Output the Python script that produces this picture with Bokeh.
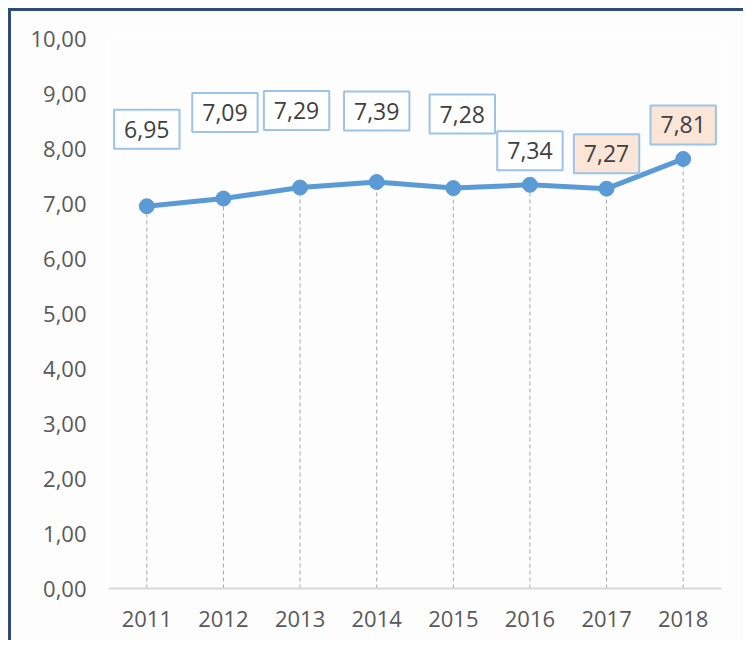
from bokeh.plotting import figure
from bokeh.models import ColumnDataSource, FixedTicker, Range1d
from bokeh.core.properties import value
from bokeh.embed import file_html
from bokeh.resources import INLINE

# ---- data ----
years = ["2011", "2012", "2013", "2014", "2015", "2016", "2017", "2018"]
values = [6.95, 7.09, 7.29, 7.39, 7.28, 7.34, 7.27, 7.81]
y_ticks = [0, 1, 2, 3, 4, 5, 6, 7, 8, 9, 10]
y_tick_labels = ["0,00", "1,00", "2,00", "3,00", "4,00", "5,00",
                 "6,00", "7,00", "8,00", "9,00", "10,00"]

# ---- label styling (pixel offsets / fills) ----
label_dx = [0, 1.5, -3.5, 0, 9, 0, 0, 0]
label_dy = [-77, -86, -77, -71, -74, -34, -35, -34]
label_fill = ["#ffffff"] * 6 + ["#fbe5d6", "#fbe5d6"]

labels = [f"{v:.2f}".replace(".", ",") for v in values]
zeros = [0] * len(values)

src = ColumnDataSource(dict(x=years, y=values, y0=zeros, lab=labels,
                            dx=label_dx, dy=label_dy, fill=label_fill))

FONT = "Open Sans"
p = figure(x_range=years, y_range=Range1d(0, 10), width=735, height=632,
           output_backend="svg", toolbar_location=None,
           min_border_left=97, min_border_right=25, min_border_top=27,
           min_border_bottom=55, background_fill_color="#fdfdfe",
           border_fill_color="#fdfdfe")
p.styles = {"border-left": "3px solid #2f4a7c", "border-top": "3px solid #2f4a7c",
            "margin-left": "8px", "margin-top": "8px"}
p.outline_line_color = None
p.grid.visible = False

# drop lines
p.segment(x0="x", y0="y0", x1="x", y1="y", source=src, line_color="#a6a6a6",
          line_width=1, line_dash="4 3")
# line + markers
p.line(x="x", y="y", source=src, line_color="#5b9bd5", line_width=5)
p.scatter(x="x", y="y", source=src, size=15, fill_color="#5b9bd5",
          line_color="#5b9bd5")
# labels
p.text(x="x", y="y", text="lab", source=src, x_offset="dx", y_offset="dy",
       text_align="center", text_baseline="middle", text_font=value(FONT),
       text_font_size="23px", text_color="#404040",
       background_fill_color="fill", border_line_color="#9dc3e6",
       border_line_width=2, padding=dict(left=10, right=10, top=11, bottom=11))

# axes
ya = p.yaxis[0]
ya.ticker = FixedTicker(ticks=y_ticks)
ya.major_label_overrides = {t: l for t, l in zip(y_ticks, y_tick_labels)}
ya.axis_line_color = None
ya.major_tick_line_color = None
ya.major_tick_out = 0
ya.minor_tick_line_color = None
ya.major_label_standoff = 22
ya.major_label_text_font = FONT
ya.major_label_text_font_size = "22px"
ya.major_label_text_color = "#595959"

xa = p.xaxis[0]
xa.axis_line_color = "#d9d9d9"
xa.axis_line_width = 2
xa.major_tick_line_color = None
xa.minor_tick_line_color = None
xa.major_label_standoff = 16
xa.major_label_text_font = FONT
xa.major_label_text_font_size = "22px"
xa.major_label_text_color = "#595959"

open("out.html", "w").write(file_html(p, INLINE))
